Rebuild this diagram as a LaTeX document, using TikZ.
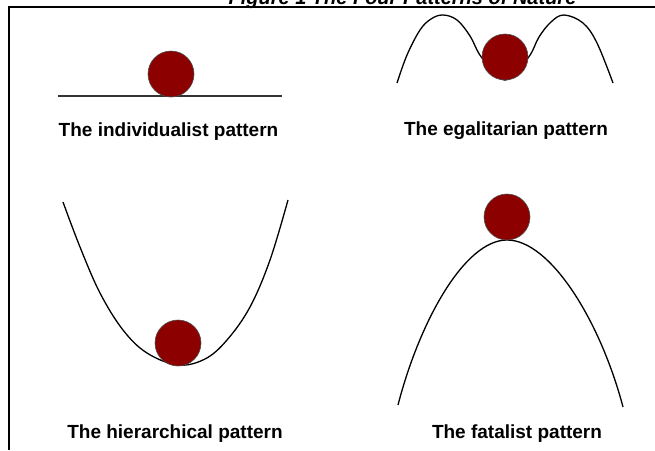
\documentclass[tikz,border=0pt]{standalone}
\usepackage{fontspec}
\setmainfont{Liberation Sans}
\definecolor{ballred}{RGB}{140,0,0}
\tikzset{
  ball/.style={circle, draw=black!70, line width=0.6pt, fill=ballred, minimum size=46pt, inner sep=0pt},
  curve/.style={line width=1.3pt, black},
  capt/.style={font=\fontsize{19}{22}\selectfont\bfseries, anchor=base, inner sep=0pt},
}
\begin{document}
\begin{tikzpicture}[x=1pt,y=-1pt]
	\useasboundingbox (0,0) rectangle (655,450);
	\clip (0,0) rectangle (655,450);
	
	% Title (cut off at the top) and frame
	\node[font=\fontsize{20}{24}\selectfont\bfseries\itshape, anchor=base, inner sep=0pt] (title) at (402.5,4.5) {Figure 1 The Four Patterns of Nature};
	\draw[line width=1.6pt] (655,7) -- (9,7) -- (9,450);
	
	% Individualist: flat ground
	\draw[line width=1.3pt, black!80] (58,96) -- (282,96);
	\node[ball] (indball) at (171,74) {};
	\node[capt] (indtext) at (168.5,136) {The individualist pattern};
	
	% Egalitarian: two hills, ball in the valley
	\draw[curve] plot[smooth, tension=0.6] coordinates {(397,83) (407,55) (420,30) (431,19) (443,15) (457,20) (470,36) (482,58) (505,80) (528,58) (539,37) (551,22) (564,15) (583,23) (597,43) (613,83)};
	\node[ball] (egaball) at (505,57) {};
	\node[capt] (egatext) at (506,135) {The egalitarian pattern};
	
	% Hierarchical: valley
	\draw[curve] plot[smooth, tension=0.6] coordinates {(63,202) (80,247) (100,293) (123,330) (147,353) (178,365) (205,359) (227,340) (250,307) (270,260) (288,200)};
	\node[ball] (hieball) at (178,343) {};
	\node[capt] (hietext) at (175,438) {The hierarchical pattern};
	
	% Fatalist: hilltop
	\draw[curve] (398,405) .. controls (420,320) and (465,240) .. (507,240)
	             .. controls (550,240) and (600,320) .. (623,407);
	\node[ball] (fatball) at (507,217) {};
	\node[capt] (fattext) at (517,438) {The fatalist pattern};
	
\end{tikzpicture}
\end{document}
